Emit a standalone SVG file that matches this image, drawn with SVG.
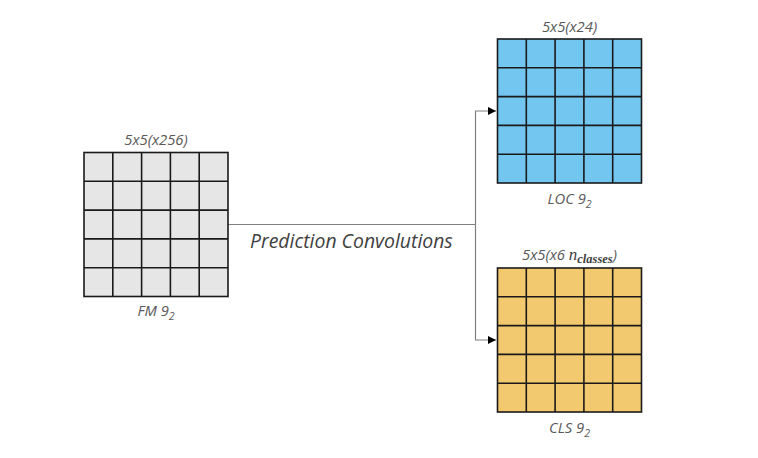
<svg xmlns="http://www.w3.org/2000/svg" width="758" height="458" viewBox="0 0 758 458">
<style>
.lbl{font-family:"Open Sans","Liberation Sans",sans-serif;font-style:italic;font-size:14.8px;fill:#595959;text-anchor:middle}
.big{font-family:"Open Sans","Liberation Sans",sans-serif;font-style:italic;font-size:19.4px;fill:#404040}
.grid{stroke:#1a1a1a;stroke-width:1.6;fill:none}
.conn{stroke:#7f7f7f;stroke-width:1.2;fill:none}
.math{font-family:"Liberation Serif",serif;font-style:italic}
</style>
<defs>
<marker id="arr" viewBox="0 0 10 10" refX="10" refY="5" markerWidth="8" markerHeight="8" markerUnits="userSpaceOnUse" orient="auto">
<path d="M0,0 L10,5 L0,10 z" fill="#000"/>
</marker>
<path id="g5" d="M28.8,0V144M57.6,0V144M86.4,0V144M115.2,0V144M0,28.8H144M0,57.6H144M0,86.4H144M0,115.2H144"/>
</defs>
<g id="connectors">
<path class="conn" d="M228,224.5H475.5"/>
<path class="conn" d="M475.5,224.5V111H496" marker-end="url(#arr)"/>
<path class="conn" d="M475.5,224.5V340H496" marker-end="url(#arr)"/>
</g>
<text class="big" x="250" y="247.5">Prediction Convolutions</text>
<g id="fm">
<rect x="84" y="152.5" width="144" height="144" fill="#e7e6e6"/>
<use href="#g5" x="84" y="152.5" class="grid"/>
<rect x="84" y="152.5" width="144" height="144" class="grid"/>
<text class="lbl" x="156" y="145">5x5(x256)</text>
<text class="lbl" x="156" y="316">FM 9<tspan font-size="10.5" dy="4">2</tspan></text>
</g>
<g id="loc">
<rect x="497.5" y="39" width="144" height="144" fill="#73c6ef"/>
<use href="#g5" x="497.5" y="39" class="grid"/>
<rect x="497.5" y="39" width="144" height="144" class="grid"/>
<text class="lbl" x="569.5" y="31.5">5x5(x24)</text>
<text class="lbl" x="569.5" y="204">LOC 9<tspan font-size="10.5" dy="4">2</tspan></text>
</g>
<g id="cls">
<rect x="497.5" y="268" width="144" height="144" fill="#f2c96f"/>
<use href="#g5" x="497.5" y="268" class="grid"/>
<rect x="497.5" y="268" width="144" height="144" class="grid"/>
<text class="lbl" x="569.5" y="260">5x5(x6 <tspan class="math" font-size="17" fill="#404040">n</tspan><tspan class="math" font-size="12.5" font-weight="bold" dy="3" fill="#404040">classes</tspan><tspan dy="-3">)</tspan></text>
<text class="lbl" x="569.5" y="433">CLS 9<tspan font-size="10.5" dy="4">2</tspan></text>
</g>
</svg>
